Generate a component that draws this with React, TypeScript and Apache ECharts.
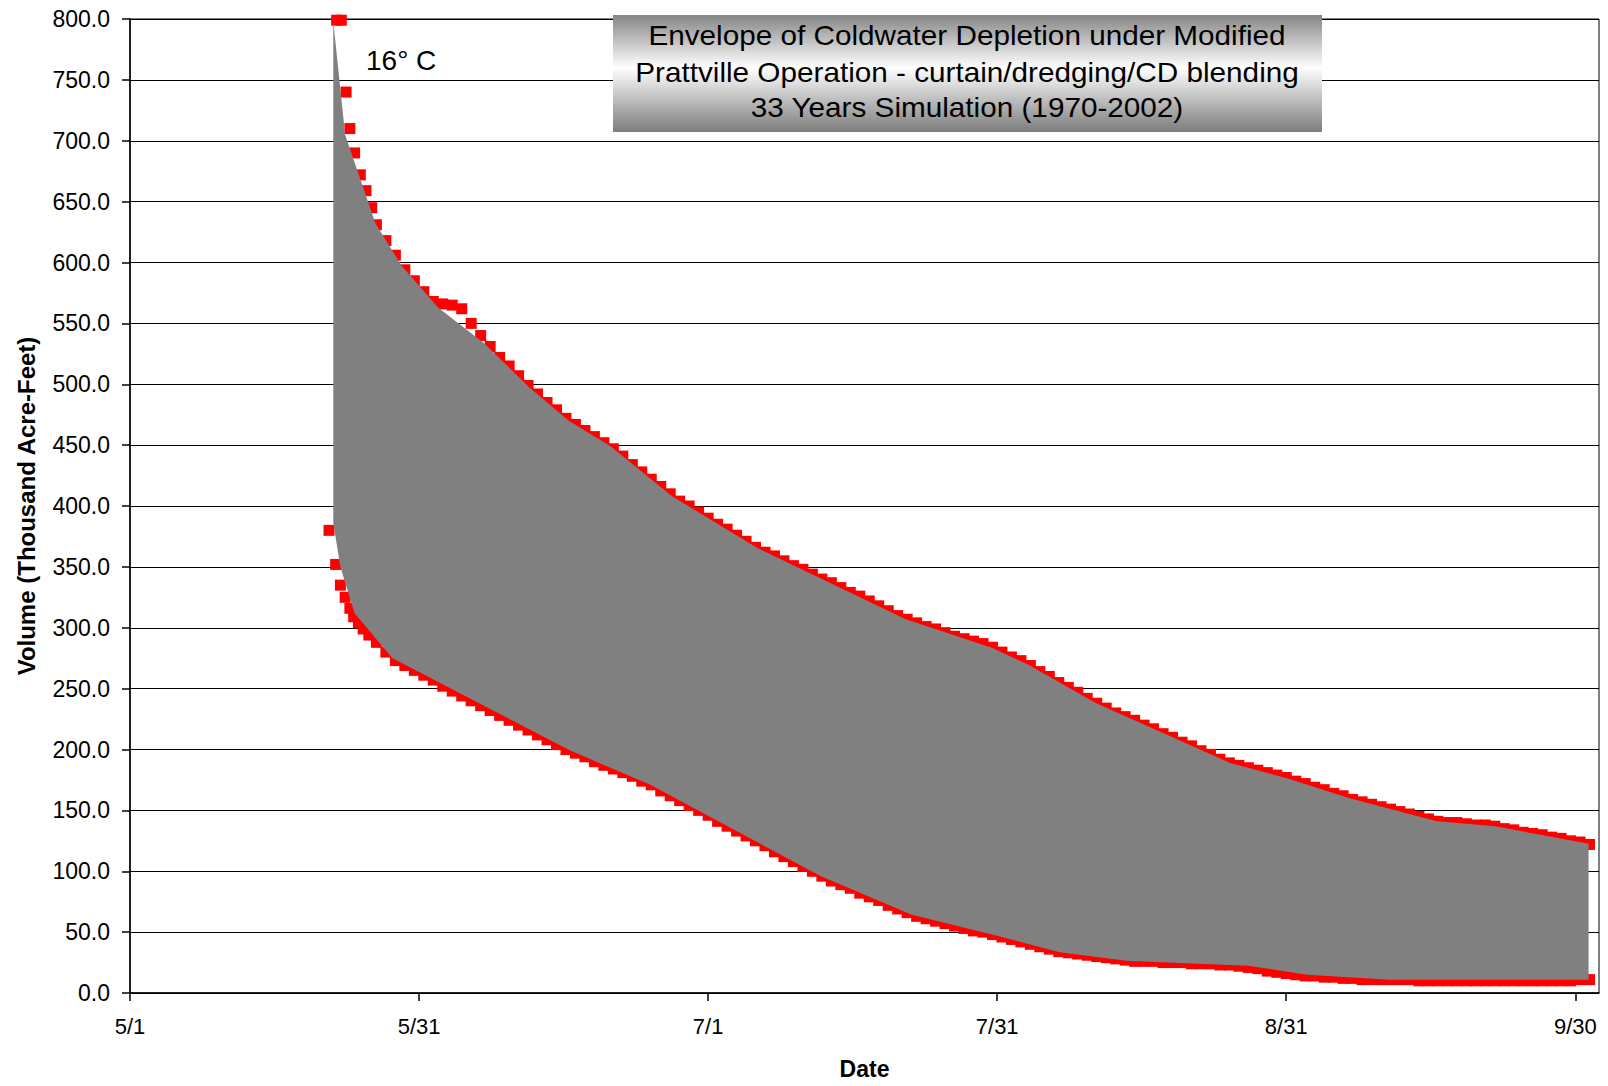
import React, { useEffect, useRef } from "react";
import * as echarts from "echarts";

// ---------- Axis labels ----------
const xTickDays = [0, 30.5, 61, 91.5, 122, 152.5];
const xTickLabels = ["5/1", "5/31", "7/1", "7/31", "8/31", "9/30"];

// ---------- Title / annotation ----------
const titleLines = [
  "Envelope of Coldwater Depletion under Modified",
  "Prattville Operation - curtain/dredging/CD blending",
  "33 Years Simulation (1970-2002)",
];
const annotation = "16\u00b0 C";

// ---------- Envelope (grey band) outline points: day since 5/1, volume ----------
const envUpperDays = [21.45, 22.7, 25.9, 28.7, 32.5, 37.3, 42.2, 46.3, 50.7, 57.2, 66.2, 81.8, 91.0, 94.8, 101.9, 116.1, 122.0, 128.6, 137.9, 144.1, 153.9];
const envUpperVals = [798, 705, 632, 597, 563, 534, 497, 470, 449, 408, 365.5, 307.2, 283.4, 269.6, 238.2, 188.9, 176.6, 160.1, 141, 136.9, 122.6];
const envLowerDays = [21.45, 22.2, 23.7, 27.7, 46.4, 54.9, 72.9, 82.5, 91.8, 98.1, 105.1, 118.0, 124.2, 133.0, 153.9];
const envLowerVals = [386, 350, 312, 275, 199.3, 171, 95.8, 64.3, 46.5, 33.4, 26.5, 22.4, 15, 10.9, 10.9];

// ---------- Red markers: early (steep) part ----------
const upperEarlyDays = [21.8, 22.3, 22.8, 23.2, 23.7, 24.3, 24.9, 25.5];
const upperEarlyVals = [799, 799, 740, 710, 690, 672, 659, 645];
const lowerEarlyDays = [21.0, 21.7, 22.2, 22.7, 23.2, 23.6, 24.1, 24.6, 25.2];
const lowerEarlyVals = [380, 352, 335, 325, 316, 309, 304, 299, 294];

// ---------- Red markers: daily from day 26 (5/27) to day 154 ----------
const dailyStartDay = 26;
const upperDailyVals = [
  631, 618, 606, 594, 585, 576, 568, 566, 565, 562,
  550, 540, 531, 522, 515, 507, 499, 492, 485, 479,
  472, 467, 462, 457, 452, 447, 441, 434, 428, 422,
  416, 410, 404, 400, 395, 390, 385, 381, 376, 371,
  366, 362, 359, 355, 351, 348, 344, 340, 337, 333,
  329, 326, 322, 318, 314, 310, 307, 304, 301, 299,
  296, 293, 291, 289, 287, 284, 280, 276, 273, 269,
  264, 260, 255, 251, 247, 242, 238, 234, 230, 227,
  224, 220, 217, 213, 210, 206, 203, 199, 196, 192,
  189, 187, 185, 183, 181, 179, 177, 174, 172, 169,
  167, 164, 162, 159, 157, 155, 153, 151, 149, 147,
  145, 143, 141, 140, 140, 139, 138, 138, 137, 135,
  134, 132, 131, 130, 128, 127, 125, 124, 122,
];
const lowerDailyVals = [
  288, 280, 273, 269, 265, 261, 257, 252, 248, 244,
  240, 236, 232, 228, 224, 220, 216, 212, 208, 204,
  200, 197, 194, 190, 187, 184, 181, 178, 174, 171,
  166, 162, 158, 154, 150, 146, 141, 137, 133, 129,
  125, 121, 116, 112, 108, 104, 100, 96, 92, 89,
  86, 82, 79, 76, 72, 69, 66, 63, 61, 59,
  57, 55, 53, 51, 50, 48, 46, 44, 42, 40,
  38, 36, 34, 33, 32, 31, 30, 29, 28, 27,
  26, 26, 26, 25, 25, 25, 24, 24, 24, 23,
  23, 22, 21, 20, 18, 17, 16, 15, 14, 14,
  13, 13, 12, 12, 11, 11, 11, 11, 11, 11,
  10, 10, 10, 10, 10, 10, 10, 10, 10, 10,
  10, 10, 10, 10, 10, 10, 10, 11, 11,
];

const FONT = "'Liberation Sans', Arial, Helvetica, sans-serif";

function pairs(days: number[], vals: number[]) {
  return days.map((d, i) => [d, vals[i]]);
}

export default function App() {
  const ref = useRef<HTMLDivElement>(null);

  useEffect(() => {
    document.body.style.margin = "0";
    const chart = echarts.init(ref.current!, null, { renderer: "svg" });

    const upperData = [
      ...pairs(upperEarlyDays, upperEarlyVals),
      ...upperDailyVals.map((v, i) => [dailyStartDay + i, v]),
    ];
    const lowerData = [
      ...pairs(lowerEarlyDays, lowerEarlyVals),
      ...lowerDailyVals.map((v, i) => [dailyStartDay + i, v]),
    ];

    const option: any = {
      animation: false,
      backgroundColor: "#ffffff",
      grid: {
        left: 130,
        right: 9,
        top: 19,
        bottom: 93,
        show: true,
        borderColor: "#000",
        borderWidth: 1,
        backgroundColor: "transparent",
      },
      xAxis: {
        type: "value",
        min: 0,
        max: 155,
        interval: 30.5,
        name: "Date",
        nameLocation: "middle",
        nameGap: 64,
        nameTextStyle: { fontFamily: FONT, fontSize: 23, fontWeight: "bold", color: "#000" },
        axisLine: { show: true, onZero: false, lineStyle: { color: "#000", width: 1.5 } },
        axisTick: { show: true, length: 8, lineStyle: { color: "#000", width: 1.5 }, customValues: xTickDays },
        axisLabel: {
          fontFamily: FONT,
          fontSize: 22,
          color: "#000",
          margin: 22,
          customValues: xTickDays,
          formatter: (v: number) => {
            const i = xTickDays.findIndex((d) => Math.abs(d - v) < 0.01);
            return i >= 0 ? xTickLabels[i] : "";
          },
        },
        splitLine: { show: false },
      },
      yAxis: {
        type: "value",
        min: 0,
        max: 800,
        interval: 50,
        name: "Volume (Thousand Acre-Feet)",
        nameLocation: "middle",
        nameGap: 92,
        nameTextStyle: { fontFamily: FONT, fontSize: 24, fontWeight: "bold", color: "#000" },
        axisLine: { show: true, lineStyle: { color: "#000", width: 1.5 } },
        axisTick: { show: true, length: 8, lineStyle: { color: "#000", width: 1.5 } },
        axisLabel: {
          fontFamily: FONT,
          fontSize: 23,
          color: "#000",
          margin: 20,
          formatter: (v: number) => v.toFixed(1),
        },
        splitLine: { show: true, lineStyle: { color: "#000", width: 1 } },
      },
      series: [
        {
          type: "scatter",
          name: "Upper",
          symbol: "rect",
          symbolSize: 11,
          itemStyle: { color: "#ff0000", opacity: 1 },
          data: upperData,
          z: 2,
          clip: false,
        },
        {
          type: "scatter",
          name: "Lower",
          symbol: "rect",
          symbolSize: 11,
          itemStyle: { color: "#ff0000", opacity: 1 },
          data: lowerData,
          z: 2,
          clip: false,
        },
        {
          type: "custom",
          name: "Envelope",
          z: 3,
          data: [[0, 0]],
          renderItem: (_params: any, api: any) => {
            const pts: number[][] = [];
            for (let i = 0; i < envUpperDays.length; i++) {
              pts.push(api.coord([envUpperDays[i], envUpperVals[i]]));
            }
            for (let i = envLowerDays.length - 1; i >= 0; i--) {
              pts.push(api.coord([envLowerDays[i], envLowerVals[i]]));
            }
            return {
              type: "polygon",
              shape: { points: pts },
              style: { fill: "#808080" },
            };
          },
        },
      ],
      graphic: [
        {
          type: "rect",
          z: 100,
          shape: { x: 613, y: 15, width: 709, height: 117 },
          style: {
            fill: {
              type: "linear",
              x: 0,
              y: 0,
              x2: 0,
              y2: 1,
              colorStops: [
                { offset: 0, color: "#858585" },
                { offset: 0.45, color: "#ffffff" },
                { offset: 1, color: "#7c7c7c" },
              ],
            },
          },
        },
        ...titleLines.map((t, i) => ({
          type: "text",
          z: 101,
          x: 967,
          y: [35, 72, 107][i],
          scaleX: 1.1,
          style: {
            text: t,
            fontFamily: FONT,
            fontSize: 27,
            fill: "#000",
            align: "center",
            verticalAlign: "middle",
          },
        })),
        {
          type: "text",
          z: 101,
          x: 366,
          y: 60,
          style: {
            text: annotation,
            fontFamily: FONT,
            fontSize: 28,
            fill: "#000",
            align: "left",
            verticalAlign: "middle",
          },
        },
      ],
    };

    chart.setOption(option);
    return () => chart.dispose();
  }, []);

  return <div ref={ref} style={{ width: 1608, height: 1086 }} />;
}
